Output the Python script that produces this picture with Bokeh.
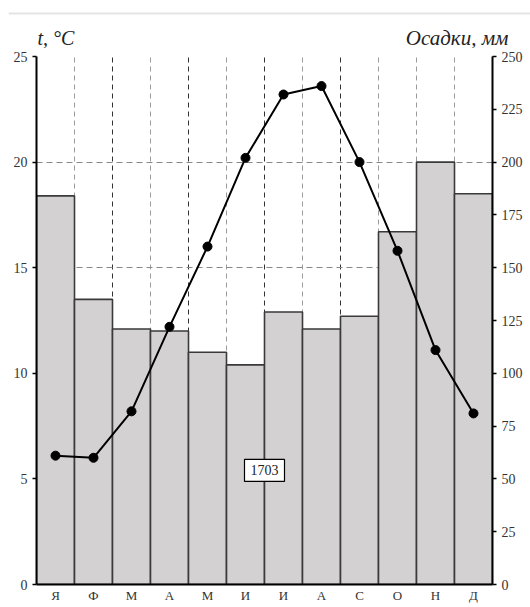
from bokeh.plotting import figure
from bokeh.models import (Range1d, LinearAxis, FixedTicker, Grid, Label, Span,
                          ColumnDataSource)
from bokeh.core.properties import value
from bokeh.layouts import column, row
from bokeh.embed import file_html
from bokeh.resources import INLINE

months = ["Я", "Ф", "М", "А", "М", "И", "И", "А", "С", "О", "Н", "Д"]
temperature = [6.1, 6.0, 8.2, 12.2, 16.0, 20.2, 23.2, 23.6, 20.0, 15.8, 11.1, 8.1]
precipitation = [184, 135, 121, 120, 110, 104, 129, 121, 127, 167, 200, 185]
total_precip = "1703"
temp_title = "t, °C"
precip_title = "Осадки, мм"
temp_ticks = [0, 5, 10, 15, 20, 25]
precip_ticks = [0, 25, 50, 75, 100, 125, 150, 175, 200, 225, 250]

SERIF = "'Liberation Serif', 'Times New Roman', serif"
W = 522
HEAD_H = 40
xs = [i + 0.5 for i in range(len(months))]
src = ColumnDataSource(dict(x=xs, t=temperature, p=precipitation))

# ---------- header with axis titles ----------
h = figure(width=W, height=HEAD_H, output_backend="svg", toolbar_location=None,
           x_range=Range1d(0, W), y_range=Range1d(0, HEAD_H),
           min_border=0, margin=0)
h.axis.visible = False
h.grid.visible = False
h.outline_line_color = None
h.add_layout(Span(location=HEAD_H - 5, dimension="width",
                  line_color="#e4e4e4", line_width=2))
h.text(x=[29], y=[11], text=[temp_title], text_font=value(SERIF),
       text_font_style="italic", text_font_size="20px", text_color="#222222",
       text_align="left", text_baseline="middle")
h.text(x=[500], y=[11], text=[precip_title], text_font=value(SERIF),
       text_font_style="italic", text_font_size="21px", text_color="#222222",
       text_align="right", text_baseline="middle")
header = row(h, margin=(8, 0, 0, 8))

# ---------- main chart ----------
p = figure(width=W, height=557, output_backend="svg", toolbar_location=None,
           x_range=Range1d(0, 12), y_range=Range1d(0, 25),
           min_border_left=28, min_border_right=38, min_border_top=8,
           min_border_bottom=0, margin=(0, 0, 0, 8))
p.extra_y_ranges = {"precip": Range1d(0, 250)}
p.outline_line_color = None

p.xgrid.visible = False
p.ygrid.visible = False
g_light = Grid(dimension=0, ticker=FixedTicker(ticks=[1, 3, 5, 7, 9, 10, 11]),
               grid_line_color="#9a9a9a", grid_line_dash="5 4", grid_line_width=1)
g_dark = Grid(dimension=0, ticker=FixedTicker(ticks=[2, 4, 6, 8]),
              grid_line_color="#333333", grid_line_dash="5 4", grid_line_width=1)
g_h = Grid(dimension=1, ticker=FixedTicker(ticks=[5, 10, 15, 20]),
           grid_line_color="#888888", grid_line_dash="6 4", grid_line_width=1)
g_top = Grid(dimension=1, ticker=FixedTicker(ticks=[25]),
             grid_line_color="#333333", grid_line_dash="6 4", grid_line_width=1)
for g in (g_light, g_dark, g_h, g_top):
    p.add_layout(g)

p.vbar(x="x", top="p", bottom=0, width=1.0, source=src, y_range_name="precip",
       fill_color="#d3d1d2", line_color="#3a3a3a", line_width=1.6)

p.line(x="x", y="t", source=src, line_color="black", line_width=2)
p.scatter(x="x", y="t", source=src, size=9, fill_color="black", line_color="black")

ax_b = p.xaxis[0]
ax_b.ticker = FixedTicker(ticks=xs)
ax_b.major_label_overrides = {x: m for x, m in zip(xs, months)}
ax_b.major_tick_line_color = None
ax_b.major_tick_out = 0
ax_b.major_tick_in = 0
ax_b.minor_tick_line_color = None
ax_b.axis_line_color = "black"
ax_b.axis_line_width = 2
ax_b.major_label_text_font = SERIF
ax_b.major_label_text_font_size = "13px"
ax_b.major_label_text_color = "#333333"
ax_b.major_label_standoff = 3

ax_l = p.yaxis[0]
ax_l.ticker = FixedTicker(ticks=temp_ticks)
ax_r = LinearAxis(y_range_name="precip", ticker=FixedTicker(ticks=precip_ticks))
p.add_layout(ax_r, "right")
for ax in (ax_l, ax_r):
    ax.minor_tick_line_color = None
    ax.major_tick_in = 0
    ax.major_tick_out = 4
    ax.major_tick_line_color = "black"
    ax.major_tick_line_width = 1.5
    ax.axis_line_color = "black"
    ax.axis_line_width = 2
    ax.major_label_text_font = SERIF
    ax.major_label_text_font_size = "14px"
    ax.major_label_text_color = "#333333"
    ax.major_label_standoff = 5

p.add_layout(Label(x=6.0, y=5.4, text=total_precip, text_font=SERIF,
                   text_font_size="14px", text_color="#222222",
                   text_align="center", text_baseline="middle",
                   background_fill_color="white", border_line_color="black",
                   border_line_width=1.2, padding=6))

layout = column(header, p, spacing=0)
open("out.html", "w").write(file_html(layout, INLINE))
